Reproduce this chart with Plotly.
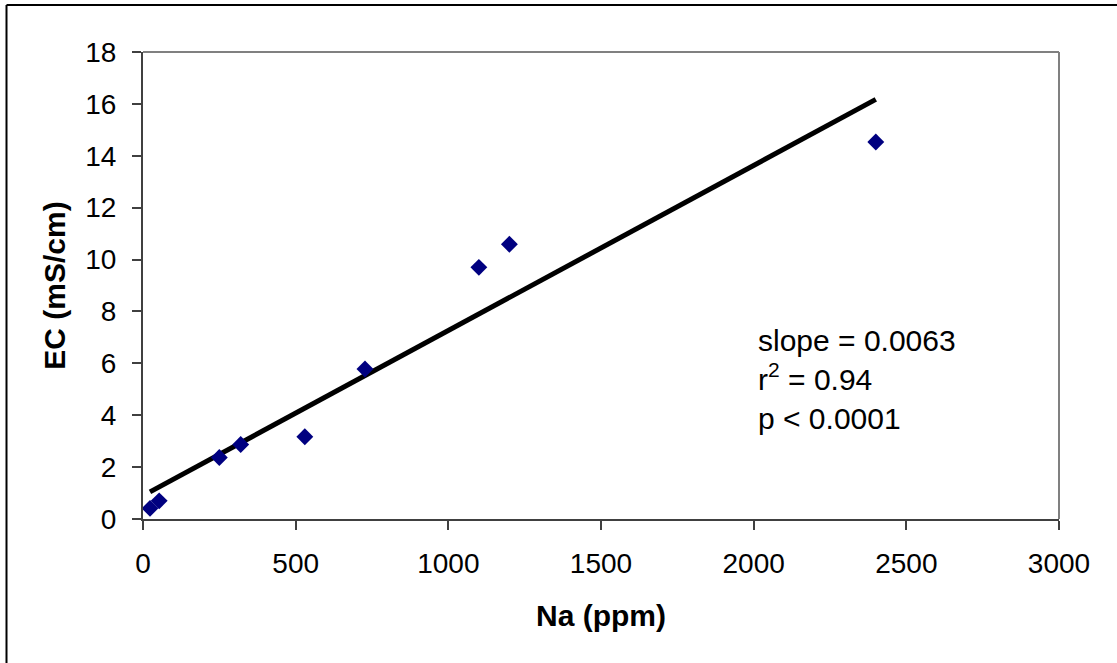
import numpy as np
import plotly.graph_objects as go

# Data
na_ppm = [23, 53, 250, 320, 530, 727, 1100, 1200, 2400]
ec_mscm = [0.41, 0.70, 2.37, 2.87, 3.17, 5.78, 9.70, 10.59, 14.53]

x_ticks = [0, 500, 1000, 1500, 2000, 2500, 3000]
y_ticks = [0, 2, 4, 6, 8, 10, 12, 14, 16, 18]

stats_lines = ["slope = 0.0063", "r<sup>2</sup> = 0.94", "p &lt; 0.0001"]

# least-squares trend line
slope, intercept = np.polyfit(na_ppm, ec_mscm, 1)
fit_x = [min(na_ppm), max(na_ppm)]
fit_y = [slope * v + intercept for v in fit_x]

FONT = "Liberation Sans, Arial, sans-serif"
W, H = 1117, 663
ML, MR, MT, MB = 143, 58, 52, 144
PW, PH = W - ML - MR, H - MT - MB

fig = go.Figure()
fig.add_trace(go.Scatter(x=fit_x, y=fit_y, mode="lines",
                         line=dict(color="black", width=5),
                         showlegend=False, hoverinfo="skip"))
fig.add_trace(go.Scatter(x=na_ppm, y=ec_mscm, mode="markers",
                         marker=dict(symbol="diamond", size=13, color="#000080",
                                     line=dict(width=0)),
                         showlegend=False))

axis_common = dict(showgrid=False, zeroline=False, showline=True,
                   linecolor="#404040", linewidth=2, ticks="outside",
                   ticklen=9, tickwidth=2, tickcolor="#404040",
                   tickfont=dict(family=FONT, size=28, color="black"))

fig.update_xaxes(range=[0, 3000], tickvals=x_ticks,
                 ticktext=[str(t) for t in x_ticks],
                 title=dict(text="<b>Na (ppm)</b>",
                            font=dict(family=FONT, size=30, color="black"),
                            standoff=27),
                 ticklabelstandoff=9, **axis_common)
fig.update_yaxes(range=[0, 18], tickvals=y_ticks,
                 ticktext=[str(t) for t in y_ticks],
                 title=dict(text="<b>EC (mS/cm)</b>",
                            font=dict(family=FONT, size=30, color="black"),
                            standoff=11),
                 ticklabelstandoff=10, **axis_common)

# plot-area border (top/right)
fig.add_shape(type="line", xref="paper", yref="paper", x0=0, x1=1, y0=1, y1=1,
              line=dict(color="#808080", width=2))
fig.add_shape(type="line", xref="paper", yref="paper", x0=1, x1=1, y0=0, y1=1,
              line=dict(color="#808080", width=2))

# chart outer border (left and top visible)
def px_to_paper_x(px):
    return (px - ML) / PW

def py_to_paper_y(py):
    return (H - MB - py) / PH

fig.add_shape(type="line", xref="paper", yref="paper",
              x0=px_to_paper_x(6.5), x1=px_to_paper_x(6.5),
              y0=py_to_paper_y(5), y1=py_to_paper_y(700),
              line=dict(color="black", width=2))
fig.add_shape(type="line", xref="paper", yref="paper",
              x0=px_to_paper_x(6.5), x1=px_to_paper_x(1200),
              y0=py_to_paper_y(5), y1=py_to_paper_y(5),
              line=dict(color="black", width=2))

fig.add_annotation(x=px_to_paper_x(756), y=py_to_paper_y(322), xref="paper", yref="paper",
                   xanchor="left", yanchor="top", showarrow=False, align="left",
                   text="<br>".join(stats_lines),
                   font=dict(family=FONT, size=30, color="black"))

fig.update_layout(width=W, height=H,
                  margin=dict(l=ML, r=MR, t=MT, b=MB),
                  paper_bgcolor="white", plot_bgcolor="white")

fig.write_html("out.html")
